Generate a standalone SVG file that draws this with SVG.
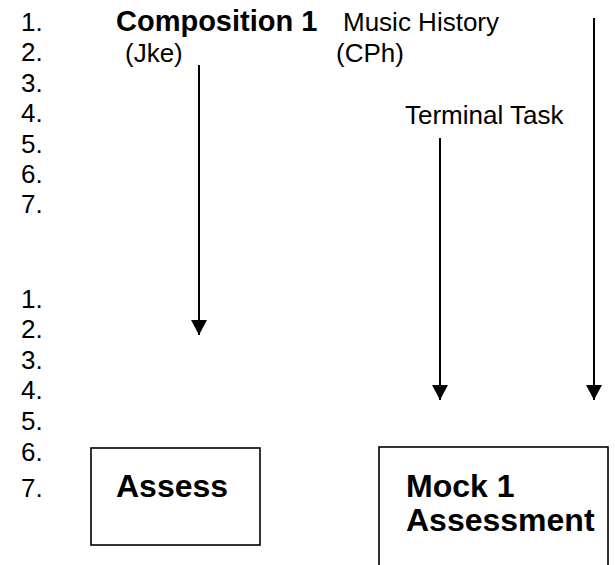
<svg xmlns="http://www.w3.org/2000/svg" width="615" height="565" viewBox="0 0 615 565">
<style>
text{font-family:"Liberation Sans",Arial,sans-serif;fill:#000}
.n{font-size:26px}
.b{font-size:32px;font-weight:bold}
.box{fill:#fff;stroke:#000;stroke-width:1.6}
.c{stroke:#000;stroke-width:2;fill:none}
</style>
<defs>
<marker id="ah" markerUnits="userSpaceOnUse" markerWidth="16" markerHeight="16" viewBox="0 0 16 16" refX="15" refY="8" orient="auto">
<path d="M0,0 L15,8 L0,16 Z" fill="#000"/>
</marker>
</defs>
<rect width="615" height="565" fill="#fff"/>
<g id="numbers1">
<text x="21" y="31" class="n">1.</text>
<text x="21" y="61" class="n">2.</text>
<text x="21" y="92" class="n">3.</text>
<text x="21" y="122" class="n">4.</text>
<text x="21" y="153" class="n">5.</text>
<text x="21" y="183" class="n">6.</text>
<text x="21" y="213" class="n">7.</text>
</g>
<g id="numbers2">
<text x="21" y="308" class="n">1.</text>
<text x="21" y="338" class="n">2.</text>
<text x="21" y="369" class="n">3.</text>
<text x="21" y="399" class="n">4.</text>
<text x="21" y="430" class="n">5.</text>
<text x="21" y="461" class="n">6.</text>
<text x="21" y="497" class="n">7.</text>
</g>
<g id="composition">
<text x="116" y="31" style="font-size:29px;font-weight:bold">Composition 1</text>
<text x="125" y="62" class="n">(Jke)</text>
</g>
<g id="history">
<text x="343" y="31" class="n">Music History</text>
<text x="336" y="62" class="n">(CPh)</text>
</g>
<g id="terminal">
<text x="405" y="124" class="n">Terminal Task</text>
</g>
<g id="assess">
<rect class="box" x="91" y="448" width="169" height="97"/>
<text x="116" y="497" class="b">Assess</text>
</g>
<g id="mock">
<rect class="box" x="379" y="447" width="229" height="140"/>
<text x="406" y="497" class="b">Mock 1</text>
<text x="406" y="531" class="b">Assessment</text>
</g>
<g id="connectors">
<line class="c" x1="199" y1="65" x2="199" y2="335" marker-end="url(#ah)"/>
<line class="c" x1="440" y1="138" x2="440" y2="400" marker-end="url(#ah)"/>
<line class="c" x1="594" y1="18" x2="594" y2="400" marker-end="url(#ah)"/>
</g>
</svg>
